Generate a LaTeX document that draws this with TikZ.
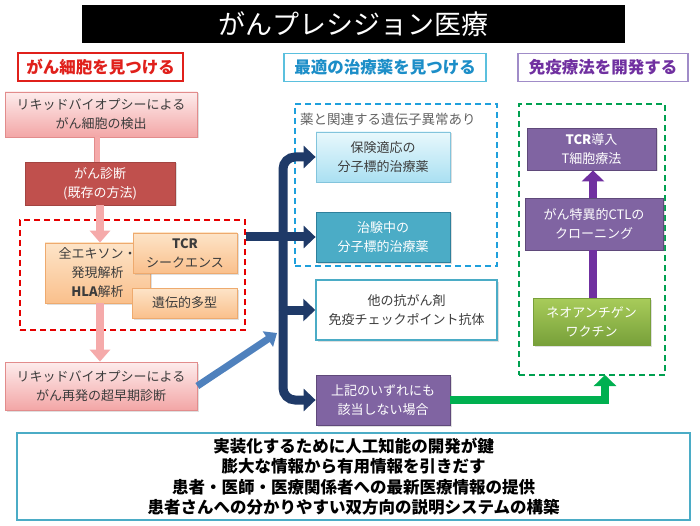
\documentclass[tikz,border=0pt]{standalone}
\usepackage{fontspec}
\setmainfont{Noto Sans CJK JP}
\usetikzlibrary{arrows.meta,shadows,calc}
\definecolor{tred}{RGB}{224,32,27}
\definecolor{tblue}{RGB}{28,142,200}
\definecolor{tcyanB}{RGB}{91,192,222}
\definecolor{tpurple}{RGB}{112,48,160}
\definecolor{tpurpleB}{RGB}{160,140,200}
\definecolor{pinkT}{RGB}{253,236,236}
\definecolor{pinkBt}{RGB}{243,166,166}
\definecolor{pinkB}{RGB}{226,140,140}
\definecolor{diagF}{RGB}{192,80,77}
\definecolor{orT}{RGB}{253,228,200}
\definecolor{orBt}{RGB}{250,192,140}
\definecolor{orB}{RGB}{238,170,110}
\definecolor{cyT}{RGB}{232,248,252}
\definecolor{cyBt}{RGB}{170,224,242}
\definecolor{cyB}{RGB}{130,196,220}
\definecolor{teal}{RGB}{75,172,198}
\definecolor{tealB}{RGB}{46,128,156}
\definecolor{purF}{RGB}{128,100,162}
\definecolor{purB}{RGB}{95,73,122}
\definecolor{grT}{RGB}{168,204,90}
\definecolor{grBt}{RGB}{120,160,58}
\definecolor{navy}{RGB}{31,58,104}
\definecolor{steel}{RGB}{79,129,189}
\definecolor{arrgreen}{RGB}{0,176,80}
\definecolor{dashgreen}{RGB}{0,160,80}
\definecolor{dashcyan}{RGB}{31,160,220}
\definecolor{txt}{RGB}{60,60,60}
\definecolor{pinkArr}{RGB}{245,170,170}
\tikzset{
  header/.style={draw, line width=1.2pt, fill=white, minimum height=28pt, inner sep=0pt, font=\fontsize{16.5}{20}\selectfont\bfseries},
  bx/.style={draw, line width=0.8pt, align=center, inner sep=0pt, font=\fontsize{13}{19}\selectfont,
    drop shadow={opacity=0.25, shadow xshift=1.5pt, shadow yshift=-1.5pt}},
  pinkbox/.style={bx, top color=pinkT, bottom color=pinkBt, draw=pinkB, text=txt},
  orbox/.style={bx, top color=orT, bottom color=orBt, draw=orB, text=txt},
  cybox/.style={bx, top color=cyT, bottom color=cyBt, draw=cyB, text=txt},
  fatnavy/.style={draw=navy, line width=9pt, rounded corners=12pt, -{Triangle[width=22pt,length=12pt]}},
  fatpink/.style={draw=pinkArr, line width=8pt, -{Triangle[width=20pt,length=12pt]}},
  dashbox/.style={draw, dashed, dash pattern=on 6pt off 4pt, line width=1.8pt, inner sep=0pt},
}
\begin{document}
\begin{tikzpicture}[x=1pt,y=-1pt]
\useasboundingbox[fill=white] (0,0) rectangle (700,526);
% title
\node[fill=black, minimum width=543pt, minimum height=38pt, inner sep=0pt, text=white, font=\fontsize{27}{30}\selectfont] (title) at (353.5,24) {がんプレシジョン医療};
% headers
\node[header, draw=tred, text=tred, minimum width=165pt] (h1) at (100.5,67) {がん細胞を見つける};
\node[header, draw=tcyanB, text=tblue, minimum width=202pt] (h2) at (385,67.5) {最適の治療薬を見つける};
\node[header, draw=tpurpleB, text=tpurple, minimum width=170pt] (h3) at (603,67.5) {免疫療法を開発する};
% dashed groups
\node[dashbox, draw=red!90!black, minimum width=225pt, minimum height=110pt] (rdash) at (132.5,275) {};
\node[dashbox, draw=dashcyan, minimum width=202pt, minimum height=162pt] (cdash) at (396,185) {};
\node[dashbox, draw=dashgreen, minimum width=146pt, minimum height=271pt] (gdash) at (592,239.5) {};
\node[anchor=west, text=txt!80, inner sep=0pt, font=\fontsize{13.5}{16}\selectfont] (clabel) at (300,119) {薬と関連する遺伝子異常あり};
% left column
\node[pinkbox, minimum width=192pt, minimum height=45pt] (b1) at (101,114.5) {リキッドバイオプシーによる\\がん細胞の検出};
\node[bx, fill=diagF, draw=diagF!85!black, text=white, minimum width=150pt, minimum height=43pt] (diag) at (100,183.5) {がん診断\\(既存の方法)};
\node[orbox, minimum width=105pt, minimum height=60pt] (ex) at (97.5,273) {全エキソン・\\発現解析\\\textbf{HLA}解析};
\node[orbox, minimum width=104pt, minimum height=40pt] (tcr) at (185,253) {\textbf{TCR}\\シークエンス};
\node[orbox, minimum width=105pt, minimum height=30pt] (poly) at (184.5,303) {遺伝的多型};
\node[pinkbox, minimum width=192pt, minimum height=48pt] (b5) at (101,386) {リキッドバイオプシーによる\\がん再発の超早期診断};
% middle column
\node[cybox, minimum width=134pt, minimum height=50pt] (c1) at (383,157) {保険適応の\\分子標的治療薬};
\node[bx, fill=teal, draw=tealB, text=white, minimum width=134pt, minimum height=50pt] (c2) at (383,237) {治験中の\\分子標的治療薬};
\node[bx, fill=white, draw=teal, line width=1.5pt, text=txt, minimum width=181pt, minimum height=60pt] (c3) at (406.5,310) {他の抗がん剤\\免疫チェックポイント抗体};
\node[bx, fill=purF, draw=purB, text=white, minimum width=134pt, minimum height=50pt] (c4) at (383,400) {上記のいずれにも\\該当しない場合};
% right column
\node[bx, fill=purF, draw=purB, text=white, minimum width=129pt, minimum height=42pt] (p1) at (591.5,149) {\textbf{TCR}導入\\T細胞療法};
\node[bx, fill=purF, draw=purB, text=white, minimum width=138pt, minimum height=52pt] (p2) at (594,224) {がん特異的CTLの\\クローニング};
\node[bx, top color=grT, bottom color=grBt, draw=grBt, text=white, minimum width=117pt, minimum height=47pt] (g1) at (591.5,321.5) {ネオアンチゲン\\ワクチン};
% bottom box
\node[draw=teal, line width=2pt, fill=white, minimum width=673pt, minimum height=87pt, inner sep=0pt, align=center,
  font=\fontsize{16.5}{20.5}\selectfont\bfseries] (bottom) at (353.5,476.5)
  {実装化するために人工知能の開発が鍵\\膨大な情報から有用情報を引きだす\\患者・医師・医療関係者への最新医療情報の提供\\患者さんへの分かりやすい双方向の説明システムの構築};
% connectors: left column
\draw[draw=pinkB, double=pinkArr, double distance=5pt, line width=0.8pt] (b1.south -| 97,0) -- (diag.north -| 97,0);
\draw[fatpink] (diag.south -| 100,0) -- (ex.north -| 100,0);
\draw[fatpink] (ex.south -| 100,0) -- (b5.north -| 100,0);
% navy bracket
\coordinate (spine) at (283,310);
\draw[fatnavy] (spine) |- (c1.west);
\draw[fatnavy] (spine) |- (c4.west);
\draw[fatnavy] (spine) -- (c3.west);
\draw[fatnavy] (rdash.east |- c2.west) -- (c2.west);
% steel blue arrow
\coordinate (sj) at (277,333);
\draw[draw=steel, line width=7pt, -{Triangle[width=18pt,length=11pt]}] (b5.east) -- (sj);
% green arrow
\coordinate (gend) at (605,375);
\draw[draw=arrgreen, line width=8pt, -{Triangle[width=22pt,length=11pt]}] (c4.east) -| (gend);
% purple
\draw[draw=tpurple, line width=8pt, -{Triangle[width=22pt,length=11pt]}] (p2.north -| 593,0) -- (p1.south -| 593,0);
\draw[draw=tpurple, line width=8pt] (g1.north -| 593,0) -- (p2.south -| 593,0);
\end{tikzpicture}
\end{document}
